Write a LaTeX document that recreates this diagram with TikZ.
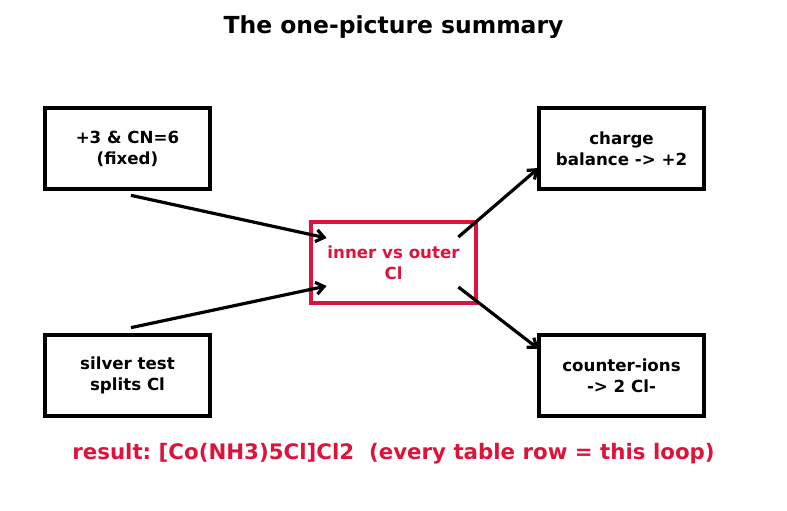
\documentclass[tikz,border=0pt]{standalone}
\usepackage{fontspec}
\setmainfont{DejaVu Sans}
\usetikzlibrary{arrows.meta,positioning,calc}
\definecolor{crimson}{HTML}{DC143C}
\frenchspacing

\begin{document}
\begin{tikzpicture}[x=0.75pt, y=-0.75pt,
    every node/.style={font=\bfseries\fontsize{12.5}{15.75}\selectfont, align=center},
    stepbox/.style={draw, line width=3.3pt, minimum width=124pt, minimum height=61pt, inner sep=0pt},
    link/.style={-{Straight Barb[length=6pt, width=9pt, line width=2.4pt]}, line width=2.4pt}]
    \useasboundingbox (0,0) rectangle (787,510);
    \node[font=\bfseries\fontsize{17.6}{21}\selectfont] (title) at (393.5,27) {The one-picture summary};
    \node[stepbox] (ox) at (127.5,148.5) {+3 \& CN=6\\(fixed)};
    \node[stepbox] (ag) at (127.5,375.5) {silver test\\splits Cl};
    \node[stepbox, draw=crimson, text=crimson] (cl) at (393.5,262.5) {inner vs outer\\Cl};
    \node[stepbox] (ch) at (621.5,148.5) {charge\\balance -> +2};
    \node[stepbox] (ci) at (621.5,375.5) {counter-ions\\-> 2 Cl-};
    \node[font=\bfseries\fontsize{16}{19}\selectfont, text=crimson] (res) at (393.5,454) {result: [Co(NH3)5Cl]Cl2\ \ (every table row = this loop)};
    % arrow ends, set off from the boxes
    \coordinate (oxA) at ($(ox.south)+(3.5,4)$);
    \coordinate (agA) at ($(ag.north)+(3.5,-5)$);
    \coordinate (clA) at ($(cl.west)+(18,-24.5)$);
    \coordinate (clB) at ($(cl.west)+(18,23.5)$);
    \coordinate (clC) at ($(cl.east)+(-20,-25.5)$);
    \coordinate (clD) at ($(cl.east)+(-20,24.5)$);
    \coordinate (chA) at ($(ch.west)+(2,19.5)$);
    \coordinate (ciA) at ($(ci.west)+(2,-26.5)$);
    \draw[link] (oxA) -- (clA);
    \draw[link] (agA) -- (clB);
    \draw[link] (clC) -- (chA);
    \draw[link] (clD) -- (ciA);
\end{tikzpicture}
\end{document}
